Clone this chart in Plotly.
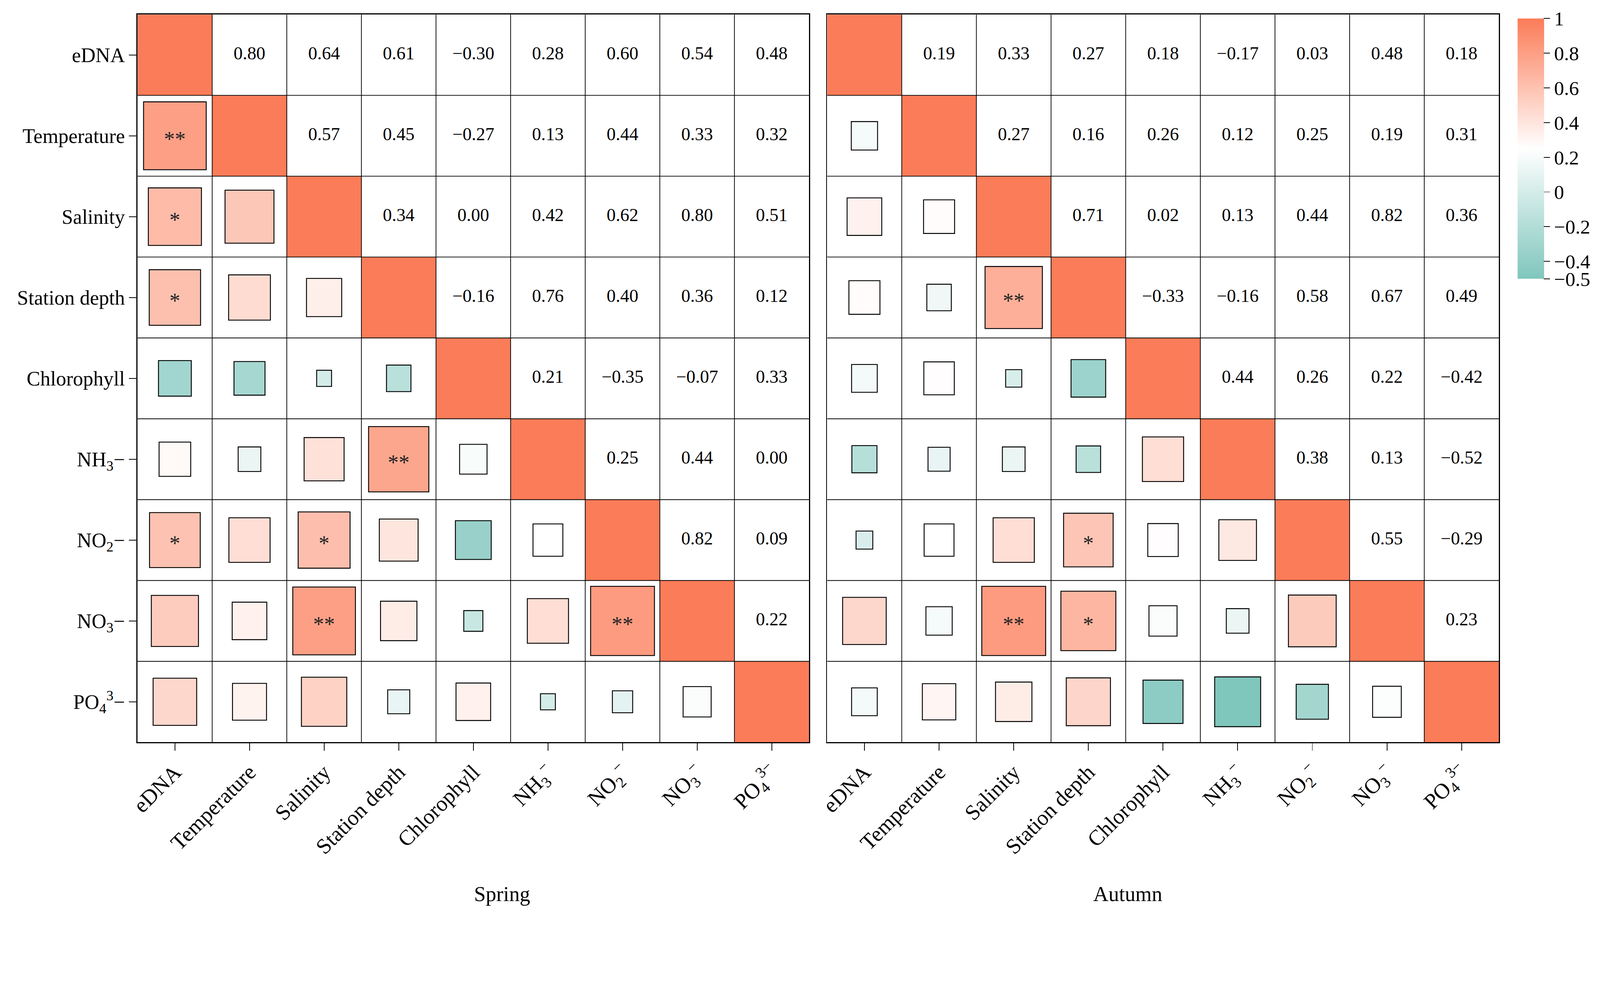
import plotly.graph_objects as go
from plotly.colors import sample_colorscale

W, H = 4408, 2527
FONT = "Liberation Serif"

variables = ["eDNA", "Temperature", "Salinity", "Station depth", "Chlorophyll",
             "NH3", "NO2", "NO3", "PO4"]
labels_x = ["eDNA", "Temperature", "Salinity", "Station depth", "Chlorophyll",
            "NH<sub>3</sub><sup>−</sup>", "NO<sub>2</sub><sup>−</sup>",
            "NO<sub>3</sub><sup>−</sup>", "PO<sub>4</sub><sup>3−</sup>"]
labels_y = ["eDNA", "Temperature", "Salinity", "Station depth", "Chlorophyll",
            "NH<sub>3</sub>−", "NO<sub>2</sub>−", "NO<sub>3</sub>−",
            "PO<sub>4</sub><sup>3</sup>−"]

# upper triangle rows (row i, columns i+1 .. n-1)
spring_upper = [
    [0.80, 0.64, 0.61, -0.30, 0.28, 0.60, 0.54, 0.48],
    [0.57, 0.45, -0.27, 0.13, 0.44, 0.33, 0.32],
    [0.34, 0.00, 0.42, 0.62, 0.80, 0.51],
    [-0.16, 0.76, 0.40, 0.36, 0.12],
    [0.21, -0.35, -0.07, 0.33],
    [0.25, 0.44, 0.00],
    [0.82, 0.09],
    [0.22],
]
autumn_upper = [
    [0.19, 0.33, 0.27, 0.18, -0.17, 0.03, 0.48, 0.18],
    [0.27, 0.16, 0.26, 0.12, 0.25, 0.19, 0.31],
    [0.71, 0.02, 0.13, 0.44, 0.82, 0.36],
    [-0.33, -0.16, 0.58, 0.67, 0.49],
    [0.44, 0.26, 0.22, -0.42],
    [0.38, 0.13, -0.52],
    [0.55, -0.29],
    [0.23],
]
# significance marks (row variable, column variable, mark) in lower triangle
spring_sig = [("Temperature", "eDNA", "**"), ("Salinity", "eDNA", "*"),
              ("Station depth", "eDNA", "*"), ("NH3", "Station depth", "**"),
              ("NO2", "eDNA", "*"), ("NO2", "Salinity", "*"),
              ("NO3", "Salinity", "**"), ("NO3", "NO2", "**")]
autumn_sig = [("Station depth", "Salinity", "**"), ("NO2", "Station depth", "*"),
              ("NO3", "Salinity", "**"), ("NO3", "Station depth", "*")]
panel_titles = ["Spring", "Autumn"]

cbar_vals = [1, 0.8, 0.6, 0.4, 0.2, 0, -0.2, -0.4, -0.5]
cbar_text = ["1", "0.8", "0.6", "0.4", "0.2", "0", "−0.2", "−0.4", "−0.5"]
cmin, cmax = -0.5, 1.0
colorscale = [[0, "#7FC6BD"], [0.5, "#FFFFFF"], [1, "#FB7C58"]]


def full_matrix(upper):
    n = len(variables)
    m = [[1.0] * n for _ in range(n)]
    for i, row in enumerate(upper):
        for k, v in enumerate(row):
            j = i + 1 + k
            m[i][j] = v
            m[j][i] = v
    return m


def color_of(v):
    t = min(max((v - cmin) / (cmax - cmin), 0.0), 1.0)
    return sample_colorscale(colorscale, [t])[0]


def fmt(v):
    return f"{v:.2f}".replace("-", "−")


fig = go.Figure()
shapes = []
n = len(variables)
panels = [(spring_upper, spring_sig), (autumn_upper, autumn_sig)]
for p, (upper, sig) in enumerate(panels):
    xr = "x" if p == 0 else "x2"
    yr = "y" if p == 0 else "y2"
    m = full_matrix(upper)
    for i in range(n):
        for j in range(n):
            v = m[i][j]
            if i == j:
                shapes.append(dict(type="rect", xref=xr, yref=yr, layer="below",
                                   x0=j - 0.5, x1=j + 0.5, y0=i - 0.5, y1=i + 0.5,
                                   fillcolor=color_of(v), line=dict(width=0)))
            elif i > j:
                h = (0.2 + 0.8 * abs(v)) / 2
                shapes.append(dict(type="rect", xref=xr, yref=yr, layer="below",
                                   x0=j - h, x1=j + h, y0=i - h, y1=i + h,
                                   fillcolor=color_of(v),
                                   line=dict(color="black", width=2.5)))
    for k in range(1, n):
        b = k - 0.5
        shapes.append(dict(type="line", xref=xr, yref=yr, layer="below",
                           x0=-0.5, x1=n - 0.5, y0=b, y1=b,
                           line=dict(color="black", width=2)))
        shapes.append(dict(type="line", xref=xr, yref=yr, layer="below",
                           x0=b, x1=b, y0=-0.5, y1=n - 0.5,
                           line=dict(color="black", width=2)))
    tx, ty, tt = [], [], []
    for i in range(n):
        for j in range(i + 1, n):
            tx.append(j)
            ty.append(i)
            tt.append(fmt(m[i][j]))
    fig.add_trace(go.Scatter(x=tx, y=ty, text=tt, mode="text", xaxis=xr, yaxis=yr,
                             textfont=dict(family=FONT, size=50, color="black"),
                             hoverinfo="skip", showlegend=False))
    sx = [variables.index(c) for r, c, s in sig]
    sy = [variables.index(r) + 0.06 for r, c, s in sig]
    st = [s for r, c, s in sig]
    fig.add_trace(go.Scatter(x=sx, y=sy, text=st, mode="text", xaxis=xr, yaxis=yr,
                             textfont=dict(family=FONT, size=60, color="#222222"),
                             hoverinfo="skip", showlegend=False))

# colorbar carrier
fig.add_trace(go.Scatter(
    x=[0], y=[0], mode="markers", xaxis="x", yaxis="y", hoverinfo="skip",
    showlegend=False,
    marker=dict(size=0.001, color=[1], colorscale=colorscale, cmin=cmin, cmax=cmax,
                showscale=True,
                colorbar=dict(x=4180 / W, xanchor="left", y=1 - 51 / H, yanchor="top",
                              len=717, lenmode="pixels", thickness=73,
                              thicknessmode="pixels", outlinewidth=0, xpad=0, ypad=0,
                              tickvals=cbar_vals, ticktext=cbar_text,
                              ticks="outside", ticklen=17, tickwidth=2,
                              tickcolor="black",
                              tickfont=dict(family=FONT, size=55, color="black")))))

ydom = [1 - 2045 / H, 1 - 40 / H]
axis_common = dict(showgrid=False, zeroline=False, showline=True, mirror=True,
                   linecolor="black", linewidth=2.5, ticklen=21,
                   tickwidth=2, tickcolor="black")
xfont = dict(family=FONT, size=60, color="black")
yfont = dict(family=FONT, size=56, color="black")
fig.update_layout(
    width=W, height=H, margin=dict(l=0, r=0, t=0, b=0),
    paper_bgcolor="white", plot_bgcolor="white",
    shapes=shapes,
    xaxis=dict(domain=[357 / W, 2217 / W], range=[-0.5, n - 0.5], anchor="y",
               tickvals=list(range(n)), ticktext=labels_x, tickangle=-45,
               ticks="outside", tickfont=xfont, **axis_common),
    yaxis=dict(domain=ydom, range=[n - 0.5, -0.5], anchor="x",
               tickvals=list(range(n)), ticktext=labels_y, ticks="outside",
               tickfont=yfont, **axis_common),
    xaxis2=dict(domain=[2267 / W, 4128 / W], range=[-0.5, n - 0.5], anchor="y2",
                tickvals=list(range(n)), ticktext=labels_x, tickangle=-45,
                ticks="outside", tickfont=xfont, **axis_common),
    yaxis2=dict(domain=ydom, range=[n - 0.5, -0.5], anchor="x2",
                tickvals=list(range(n)), showticklabels=False, ticks="",
                **axis_common),
    annotations=[
        dict(text=panel_titles[0], x=(357 + 2217) / 2 / W, y=1 - 2498 / H,
             xref="paper", yref="paper", showarrow=False,
             font=dict(family=FONT, size=58, color="black")),
        dict(text=panel_titles[1], x=(2267 + 4128) / 2 / W, y=1 - 2498 / H,
             xref="paper", yref="paper", showarrow=False,
             font=dict(family=FONT, size=58, color="black")),
    ],
)

fit_js = """
(function(){
  var gd = document.getElementById('{plot_id}');
  document.documentElement.style.margin = '0';
  document.documentElement.style.overflow = 'hidden';
  document.body.style.margin = '0';
  document.body.style.overflow = 'hidden';
  function fit(){
    var s = Math.min(window.innerWidth / %d, window.innerHeight / %d, 1);
    gd.style.transformOrigin = '0 0';
    gd.style.transform = 'scale(' + s + ')';
  }
  fit();
  window.addEventListener('resize', fit);
})();
""" % (W, H)
fig.write_html("out.html", post_script=fit_js, config={"displayModeBar": False})
